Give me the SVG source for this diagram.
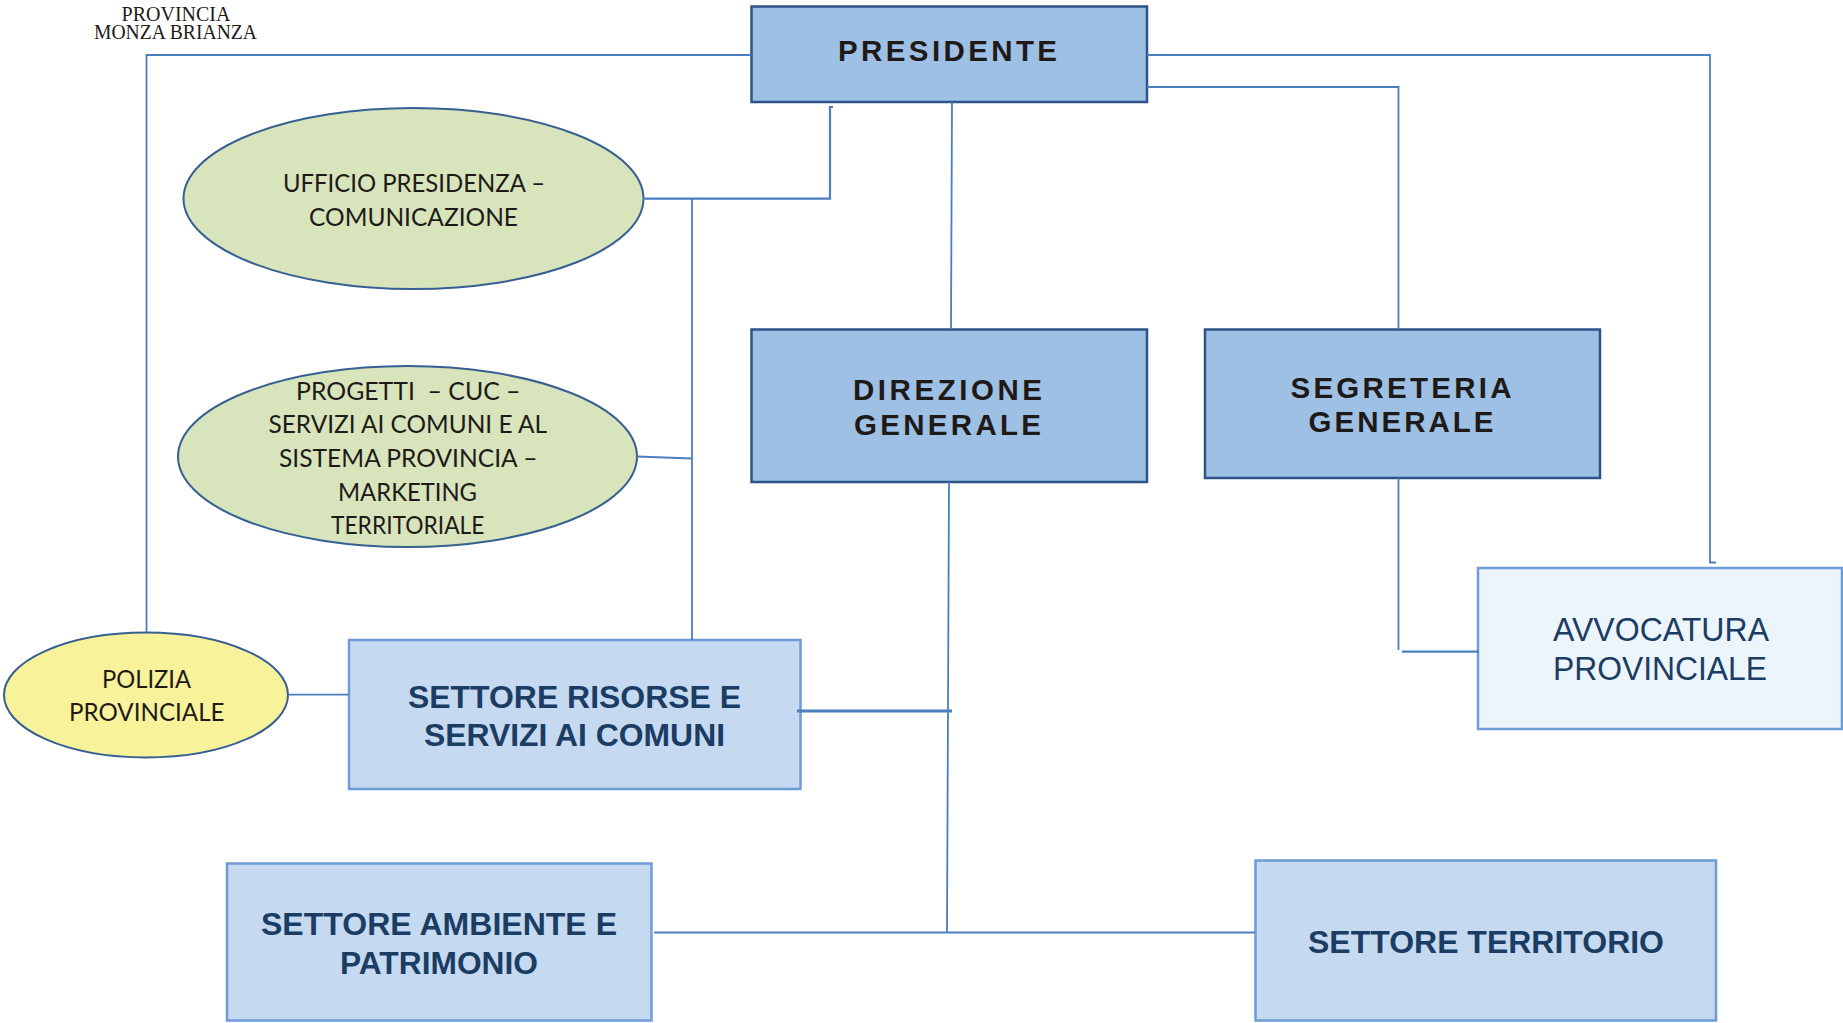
<svg xmlns="http://www.w3.org/2000/svg" width="1843" height="1023" viewBox="0 0 1843 1023">
<style>
.bg{fill:#fff}
.top{fill:#9dc0e4;stroke:#2c5487;stroke-width:2.500}
.mid{fill:#c5d9f1;stroke:#6f9bd6;stroke-width:2.500}
.pale{fill:#ecf4fc;stroke:#6f9bd6;stroke-width:2.500}
.green{fill:#d7e4bc;stroke:#376092;stroke-width:2}
.yellow{fill:#f8f39b;stroke:#376092;stroke-width:2}
.l{fill:none;stroke:#4a7ebf;stroke-width:1.800}
.m{fill:none;stroke:#4a7ebf;stroke-width:2.200}
.h{fill:none;stroke:#4a7ebf;stroke-width:2.800}
text{white-space:pre}
.tt{font-family:"Liberation Sans",Arial,sans-serif;font-weight:700;font-size:29.500px;fill:#1f1a17}
.st{font-family:"Liberation Sans",Arial,sans-serif;font-weight:700;font-size:32px;fill:#1c3d63}
.av{font-family:"Liberation Sans",Arial,sans-serif;font-size:32.500px;fill:#1c3d63}
.el{font-family:Lato,"Liberation Sans",sans-serif;font-size:25px;fill:#1f1a17}
.lg{font-family:"Liberation Serif","Times New Roman",serif;font-size:21px;fill:#1f1a17}
</style>
<rect class="bg" width="1843" height="1023"/>
<g id="logo">
<text class="lg" x="121.500" y="21" textLength="109" lengthAdjust="spacingAndGlyphs">PROVINCIA</text>
<text class="lg" x="94" y="38.500" textLength="163" lengthAdjust="spacingAndGlyphs">MONZA BRIANZA</text>
</g>
<g id="presidente">
<rect class="top" x="751.500" y="6.500" width="395.500" height="95.500"/>
<text class="tt" x="838" y="61" textLength="219" lengthAdjust="spacing">PRESIDENTE</text>
</g>
<g id="direzione-generale">
<rect class="top" x="751.500" y="329.500" width="395.500" height="152.500"/>
<text class="tt" x="853" y="400" textLength="189" lengthAdjust="spacing">DIREZIONE</text>
<text class="tt" x="854" y="435" textLength="187" lengthAdjust="spacing">GENERALE</text>
</g>
<g id="segreteria-generale">
<rect class="top" x="1205" y="329.500" width="395" height="148.500"/>
<text class="tt" x="1290.500" y="397.500" textLength="221" lengthAdjust="spacing">SEGRETERIA</text>
<text class="tt" x="1308.500" y="432" textLength="185" lengthAdjust="spacing">GENERALE</text>
</g>
<g id="avvocatura-provinciale">
<rect class="pale" x="1478" y="568" width="364" height="161"/>
<text class="av" x="1553" y="640.500" textLength="216" lengthAdjust="spacingAndGlyphs">AVVOCATURA</text>
<text class="av" x="1553" y="679.500" textLength="214" lengthAdjust="spacingAndGlyphs">PROVINCIALE</text>
</g>
<g id="ufficio-presidenza">
<ellipse class="green" cx="413.500" cy="198.500" rx="230" ry="90.500"/>
<text class="el" x="283" y="191.500" textLength="262" lengthAdjust="spacingAndGlyphs">UFFICIO PRESIDENZA –</text>
<text class="el" x="309" y="225.500" textLength="209" lengthAdjust="spacingAndGlyphs">COMUNICAZIONE</text>
</g>
<g id="progetti">
<ellipse class="green" cx="407.500" cy="456.500" rx="229.500" ry="90.500"/>
<text class="el" x="296" y="400" textLength="224.500" lengthAdjust="spacingAndGlyphs">PROGETTI  – CUC –</text>
<text class="el" x="268.500" y="433" textLength="278.500" lengthAdjust="spacingAndGlyphs">SERVIZI AI COMUNI E AL</text>
<text class="el" x="279" y="467" textLength="258.500" lengthAdjust="spacingAndGlyphs">SISTEMA PROVINCIA –</text>
<text class="el" x="338" y="500.500" textLength="139" lengthAdjust="spacingAndGlyphs">MARKETING</text>
<text class="el" x="331" y="534" textLength="153.500" lengthAdjust="spacingAndGlyphs">TERRITORIALE</text>
</g>
<g id="polizia-provinciale">
<ellipse class="yellow" cx="146" cy="695" rx="142" ry="62.500"/>
<text class="el" x="102" y="688" textLength="89" lengthAdjust="spacingAndGlyphs">POLIZIA</text>
<text class="el" x="69" y="721" textLength="155.500" lengthAdjust="spacingAndGlyphs">PROVINCIALE</text>
</g>
<g id="settore-risorse">
<rect class="mid" x="349" y="640" width="451.500" height="149"/>
<text class="st" x="408" y="707.500" textLength="333" lengthAdjust="spacingAndGlyphs">SETTORE RISORSE E</text>
<text class="st" x="424" y="745.500" textLength="301" lengthAdjust="spacingAndGlyphs">SERVIZI AI COMUNI</text>
</g>
<g id="settore-ambiente">
<rect class="mid" x="227" y="863.500" width="424.500" height="157"/>
<text class="st" x="261" y="934.500" textLength="356" lengthAdjust="spacingAndGlyphs">SETTORE AMBIENTE E</text>
<text class="st" x="340" y="974" textLength="198" lengthAdjust="spacingAndGlyphs">PATRIMONIO</text>
</g>
<g id="settore-territorio">
<rect class="mid" x="1255.500" y="860.500" width="460.500" height="160"/>
<text class="st" x="1308" y="952.500" textLength="356" lengthAdjust="spacingAndGlyphs">SETTORE TERRITORIO</text>
</g>
<g id="connectors">
<path class="l" d="M751 55H146.500V632"/>
<path class="m" d="M643 198.700H830V107H833"/>
<path class="l" d="M692 199V640"/>
<path class="m" d="M637 456.500L692 458.500"/>
<path class="l" d="M288 694.700H349"/>
<path class="h" d="M797 711H952"/>
<path class="l" d="M952 102L951 329"/>
<path class="l" d="M949 482L947 933"/>
<path class="l" d="M654 932.500H1255"/>
<path class="l" d="M1147 87H1398.500V329"/>
<path class="l" d="M1398.500 478V650"/>
<path class="m" d="M1402 651.700H1479"/>
<path class="l" d="M1147 55H1710V562.500H1716"/>
</g>
</svg>
